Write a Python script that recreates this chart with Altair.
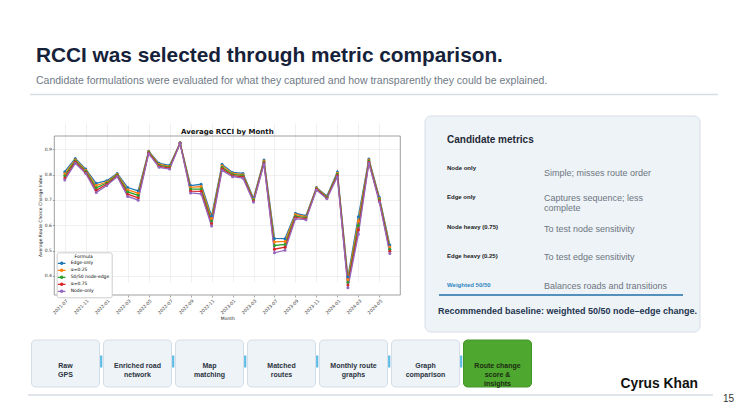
import altair as alt
import pandas as pd

# ---- data ----
months = ['2021-07', '2021-09', '2021-11', '2021-12', '2022-01', '2022-02', '2022-03', '2022-04',
          '2022-05', '2022-06', '2022-07', '2022-08', '2022-09', '2022-10', '2022-11', '2022-12',
          '2023-01', '2023-02', '2023-03', '2023-05', '2023-07', '2023-08', '2023-09', '2023-10',
          '2023-11', '2023-12', '2024-01', '2024-02', '2024-03', '2024-04', '2024-05', '2024-06']
tick_months = ['2021-07', '2021-11', '2022-01', '2022-03', '2022-05', '2022-07', '2022-09', '2022-11',
               '2023-01', '2023-03', '2023-07', '2023-09', '2023-11', '2024-01', '2024-03', '2024-05']
y_ticks = [0.4, 0.5, 0.6, 0.7, 0.8, 0.9]

formulas = ['Edge-only', 'α=0.25', '50/50 node-edge', 'α=0.75', 'Node-only']
colors = ['#1f77b4', '#ff7f0e', '#2ca02c', '#d62728', '#9467bd']

edge_only = [0.812, 0.864, 0.822, 0.766, 0.776, 0.805, 0.749, 0.736, 0.893, 0.845, 0.837, 0.926,
             0.757, 0.762, 0.637, 0.841, 0.809, 0.805, 0.707, 0.858, 0.548, 0.547, 0.647, 0.638,
             0.749, 0.716, 0.811, 0.395, 0.634, 0.862, 0.711, 0.522]
alpha_025 = [0.804, 0.859, 0.818, 0.757, 0.771, 0.802, 0.740, 0.727, 0.891, 0.841, 0.833, 0.925,
             0.750, 0.753, 0.627, 0.835, 0.805, 0.800, 0.703, 0.854, 0.534, 0.536, 0.642, 0.634,
             0.747, 0.713, 0.806, 0.385, 0.617, 0.858, 0.706, 0.514]
node_edge_50 = [0.796, 0.855, 0.814, 0.748, 0.767, 0.799, 0.732, 0.718, 0.888, 0.837, 0.830, 0.925,
                0.743, 0.743, 0.617, 0.829, 0.801, 0.796, 0.700, 0.850, 0.520, 0.524, 0.636, 0.630,
                0.744, 0.711, 0.802, 0.374, 0.599, 0.854, 0.702, 0.505]
alpha_075 = [0.787, 0.850, 0.809, 0.738, 0.762, 0.795, 0.723, 0.708, 0.886, 0.833, 0.826, 0.924,
             0.735, 0.734, 0.607, 0.823, 0.796, 0.791, 0.696, 0.846, 0.505, 0.513, 0.631, 0.626,
             0.742, 0.708, 0.797, 0.364, 0.582, 0.849, 0.697, 0.497]
node_only = [0.779, 0.845, 0.805, 0.729, 0.757, 0.792, 0.714, 0.699, 0.883, 0.829, 0.822, 0.923,
             0.728, 0.724, 0.597, 0.817, 0.792, 0.786, 0.692, 0.842, 0.491, 0.501, 0.625, 0.622,
             0.739, 0.705, 0.792, 0.353, 0.564, 0.845, 0.692, 0.488]

metric_names = ['Node only', 'Edge only', 'Node heavy (0.75)', 'Edge heavy (0.25)', 'Weighted 50/50']
metric_notes = [['Simple; misses route order'], ['Captures sequence; less', 'complete'],
                ['To test node sensitivity'], ['To test edge sensitivity'],
                ['Balances roads and transitions']]
pipeline = [['Raw', 'GPS'], ['Enriched road', 'network'], ['Map', 'matching'], ['Matched', 'routes'],
            ['Monthly route', 'graphs'], ['Graph', 'comparison'], ['Route change', 'score &', 'insights']]

series = [edge_only, alpha_025, node_edge_50, alpha_075, node_only]
df = pd.DataFrame([
    {'Month': m, 'Formula': f, 'RCCI': v}
    for f, vals in zip(formulas, series)
    for m, v in zip(months, vals)
])

SANS = 'Liberation Sans'
MPL = 'DejaVu Sans'
# legend swatch: a short line with a dot in the middle, like matplotlib's
LINE_DOT = 'M-1.9,0H1.9M0.55,0A0.55,0.55,0,1,1,-0.55,0A0.55,0.55,0,1,1,0.55,0'


def one():
    return alt.Chart(pd.DataFrame({'k': [0]}))


def text(s, x, y, size, color='#1f2a36', weight='normal', align='left', font=SANS,
         baseline='alphabetic', line_height=None):
    kw = dict(text=s, align=align, baseline=baseline, fontSize=size, fontWeight=weight,
              font=font, color=color)
    if line_height:
        kw['lineHeight'] = line_height
    return one().mark_text(**kw).encode(x=alt.value(x), y=alt.value(y))


def box(x, x2, y, y2, fill, stroke, radius=0, sw=1, opacity=1):
    return one().mark_rect(fill=fill, fillOpacity=opacity, stroke=stroke, strokeWidth=sw,
                           cornerRadius=radius).encode(
        x=alt.value(x), x2=alt.value(x2), y=alt.value(y), y2=alt.value(y2))


def hline(x, x2, y, color, sw):
    return one().mark_rule(color=color, strokeWidth=sw).encode(
        x=alt.value(x), x2=alt.value(x2), y=alt.value(y))


# ---- slide header ----
layers = [
    text('RCCI was selected through metric comparison.', 28, 54, 20.8, '#16213a', 'bold'),
    text('Candidate formulations were evaluated for what they captured and how transparently '
         'they could be explained.', 28, 76, 10.5, '#6f7a86'),
    hline(22, 710, 86.5, '#d5dde5', 1.5),
]

# ---- metrics panel ----
layers.append(box(417, 692, 108, 324, '#eef3f8', '#d6dee7', radius=6))
layers.append(text('Candidate metrics', 439, 135, 10, '#1f2a36', 'bold'))
row_y = [162, 191, 221, 250, 278.5]
note_y = [168, 193, 224, 252, 281]
for i, (name, note) in enumerate(zip(metric_names, metric_notes)):
    last = i == len(metric_names) - 1
    layers.append(text(name, 439, row_y[i], 6, '#2f86c0' if last else '#222222', 'bold'))
    layers.append(text(note, 536, note_y[i], 9, '#6d7580', line_height=10))
layers.append(hline(431, 675, 287, '#1f6fa8', 1.5))
layers.append(text('Recommended baseline: weighted 50/50 node\u2013edge change.', 430, 305.5, 9,
                   '#1e3550', 'bold'))

# ---- pipeline ----
for i, lines in enumerate(pipeline):
    x0 = 23.5 + 72 * i
    last = i == len(pipeline) - 1
    if i > 0:
        layers.append(box(x0 - 3.4, x0 - 1.2, 347.5, 359.5, '#5bbbe8', '#5bbbe8', sw=0))
    layers.append(box(x0, x0 + 68, 332, 379, '#4ea72e' if last else '#eef3f8',
                      '#45962a' if last else '#d5dde6', radius=4))
    layers.append(text(lines, x0 + 34, 357.5, 7, '#1c2b12' if last else '#2b3440', 'bold',
                       align='center', baseline='middle', line_height=9))

layers.append(text('Cyrus Khan', 690, 380, 13.8, '#111111', 'bold', align='right'))
layers.append(hline(20, 705, 387, '#d5dde5', 1.5))
layers.append(text('15', 726, 394, 10, '#333333', align='right'))

# ---- embedded matplotlib-style chart ----
X0, X1, Y0, Y1 = 46.3, 392.3, 128, 287
layers.append(text('Average RCCI by Month', (X0 + X1) / 2, 126, 7, '#111111', 'bold',
                   align='center', font=MPL))

lines_chart = alt.Chart(df).mark_line(
    strokeWidth=1.3, point=alt.OverlayMarkDef(size=9, filled=True)
).encode(
    x=alt.X('Month:O', sort=months,
            scale=alt.Scale(type='point', range=[X0, X1], padding=1.5),
            axis=alt.Axis(values=tick_months, labelAngle=-45, labelAlign='right',
                          labelBaseline='top', labelFontSize=4.5, labelFont=MPL,
                          labelColor='#333333', labelPadding=1, tickSize=2, tickWidth=0.5,
                          tickColor='#555555', domain=False, grid=True, gridColor='#e6e6e6',
                          gridWidth=0.6, offset=Y1 - 402, title='Month', titleFontSize=4.5,
                          titleFont=MPL, titleFontWeight='normal', titleColor='#222222',
                          titlePadding=1.5)),
    y=alt.Y('RCCI:Q',
            scale=alt.Scale(domain=[0.324, 0.953], range=[Y1, Y0], nice=False, zero=False),
            axis=alt.Axis(values=y_ticks, format='.1f', labelFontSize=4.5, labelFont=MPL,
                          labelColor='#333333', labelPadding=1, tickSize=2, tickWidth=0.5,
                          tickColor='#555555', domain=False, grid=True, gridColor='#e6e6e6',
                          gridWidth=0.6, offset=-X0,
                          title='Average Route Choice Change Index', titleFontSize=4.5,
                          titleFont=MPL, titleFontWeight='normal', titleColor='#222222',
                          titlePadding=2)),
    color=alt.Color('Formula:N', sort=formulas,
                    scale=alt.Scale(domain=formulas, range=colors),
                    legend=alt.Legend(orient='none', legendX=48.7, legendY=244.3, title='Formula',
                                      titleFontSize=4.5, titleFont=MPL, titleFontWeight='normal',
                                      titleAnchor='middle', titlePadding=1.5,
                                      labelFontSize=4.5, labelFont=MPL, labelOffset=6,
                                      symbolType=LINE_DOT, symbolSize=16, symbolStrokeWidth=1.3,
                                      rowPadding=-1.5, padding=2, strokeColor='#cccccc',
                                      fillColor='white', cornerRadius=2)),
)
layers.append(lines_chart)
layers.append(box(X0, X1, Y0, Y1, 'white', '#888888', sw=0.8, opacity=0))

chart = alt.layer(*layers).properties(
    width=727, height=402, padding=0, autosize='none', background='white'
).configure_view(stroke=None)

chart.save('out.html', embed_options={'renderer': 'svg', 'actions': False})
